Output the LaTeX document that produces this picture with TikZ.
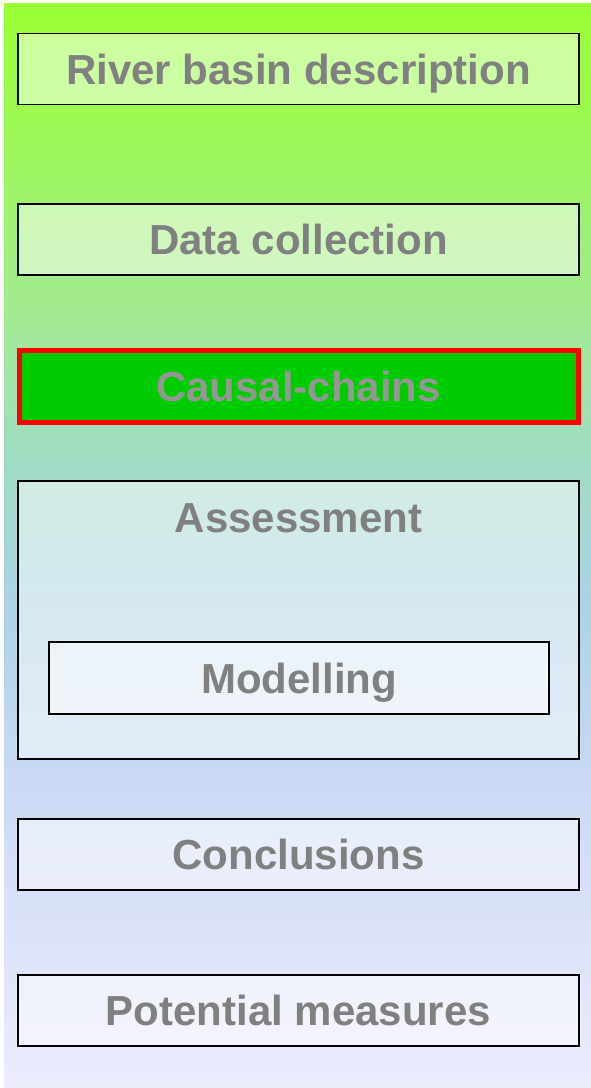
\documentclass[tikz,border=0pt]{standalone}
\usepackage{fontspec}
\setmainfont{Liberation Sans}
\usetikzlibrary{positioning}
\definecolor{stageText}{gray}{0.5}
\definecolor{activeText}{gray}{0.59}
\definecolor{activeFill}{RGB}{0,204,0}
\definecolor{activeEdge}{RGB}{255,0,0}
\definecolor{bgTop}{RGB}{153,255,51}
\definecolor{bgLime}{RGB}{156,247,92}
\definecolor{bgMint}{RGB}{163,233,152}
\definecolor{bgSea}{RGB}{160,220,196}
\definecolor{bgSky}{RGB}{172,210,228}
\definecolor{bgPeri}{RGB}{205,218,245}
\definecolor{bgLav}{RGB}{236,236,252}
% background fade, stops placed inside the 25bp..75bp band
\pgfdeclareverticalshading{stagefade}{100bp}{%
  color(0bp)=(bgLav); color(25bp)=(bgLav); color(38.3bp)=(bgPeri);
  color(47.5bp)=(bgSky); color(53.9bp)=(bgSea); color(59.9bp)=(bgMint);
  color(68.2bp)=(bgLime); color(75bp)=(bgTop); color(100bp)=(bgTop)}
\tikzset{
  stagefont/.style={font=\fontsize{42}{48}\selectfont\bfseries,
    text height=30pt, text depth=0pt},
  stagebox/.style={draw=black, line width=1.5pt, fill=white, fill opacity=0.5,
    text opacity=1, minimum width=561pt, minimum height=71pt, inner sep=0pt,
    text=stageText, stagefont},
  activebox/.style={stagebox, draw=activeEdge, line width=5pt, fill=activeFill,
    fill opacity=1, text=activeText, minimum width=559pt, minimum height=72pt},
  stagelabel/.style={text=stageText, inner sep=0pt, stagefont}
}
\begin{document}
\begin{tikzpicture}[x=1pt, y=-1pt]
    \useasboundingbox (0,0) rectangle (591,1088);
    \fill[white] (0,0) rectangle (591,1088);
    \shade[shading=stagefade] (4,3) rectangle (591,1088);

    \node[stagebox] (basin) at (298.5,69) {River basin description};
    \node[stagebox] (data) at (298.5,239.5) {Data collection};
    \node[activebox] (chains) at (298.5,386) {Causal-chains};

    % assessment frame holds the modelling step
    \node[stagebox, minimum height=278pt] (assess) at (298.5,620) {};
    \node[stagelabel, below=22pt of assess.north] (assesstext) {Assessment};
    \node[stagebox, minimum width=500pt, minimum height=72pt] (model) at (299,678) {Modelling};

    \node[stagebox] (concl) at (298.5,854.5) {Conclusions};
    \node[stagebox] (measures) at (298.5,1010.5) {Potential measures};
\end{tikzpicture}
\end{document}
